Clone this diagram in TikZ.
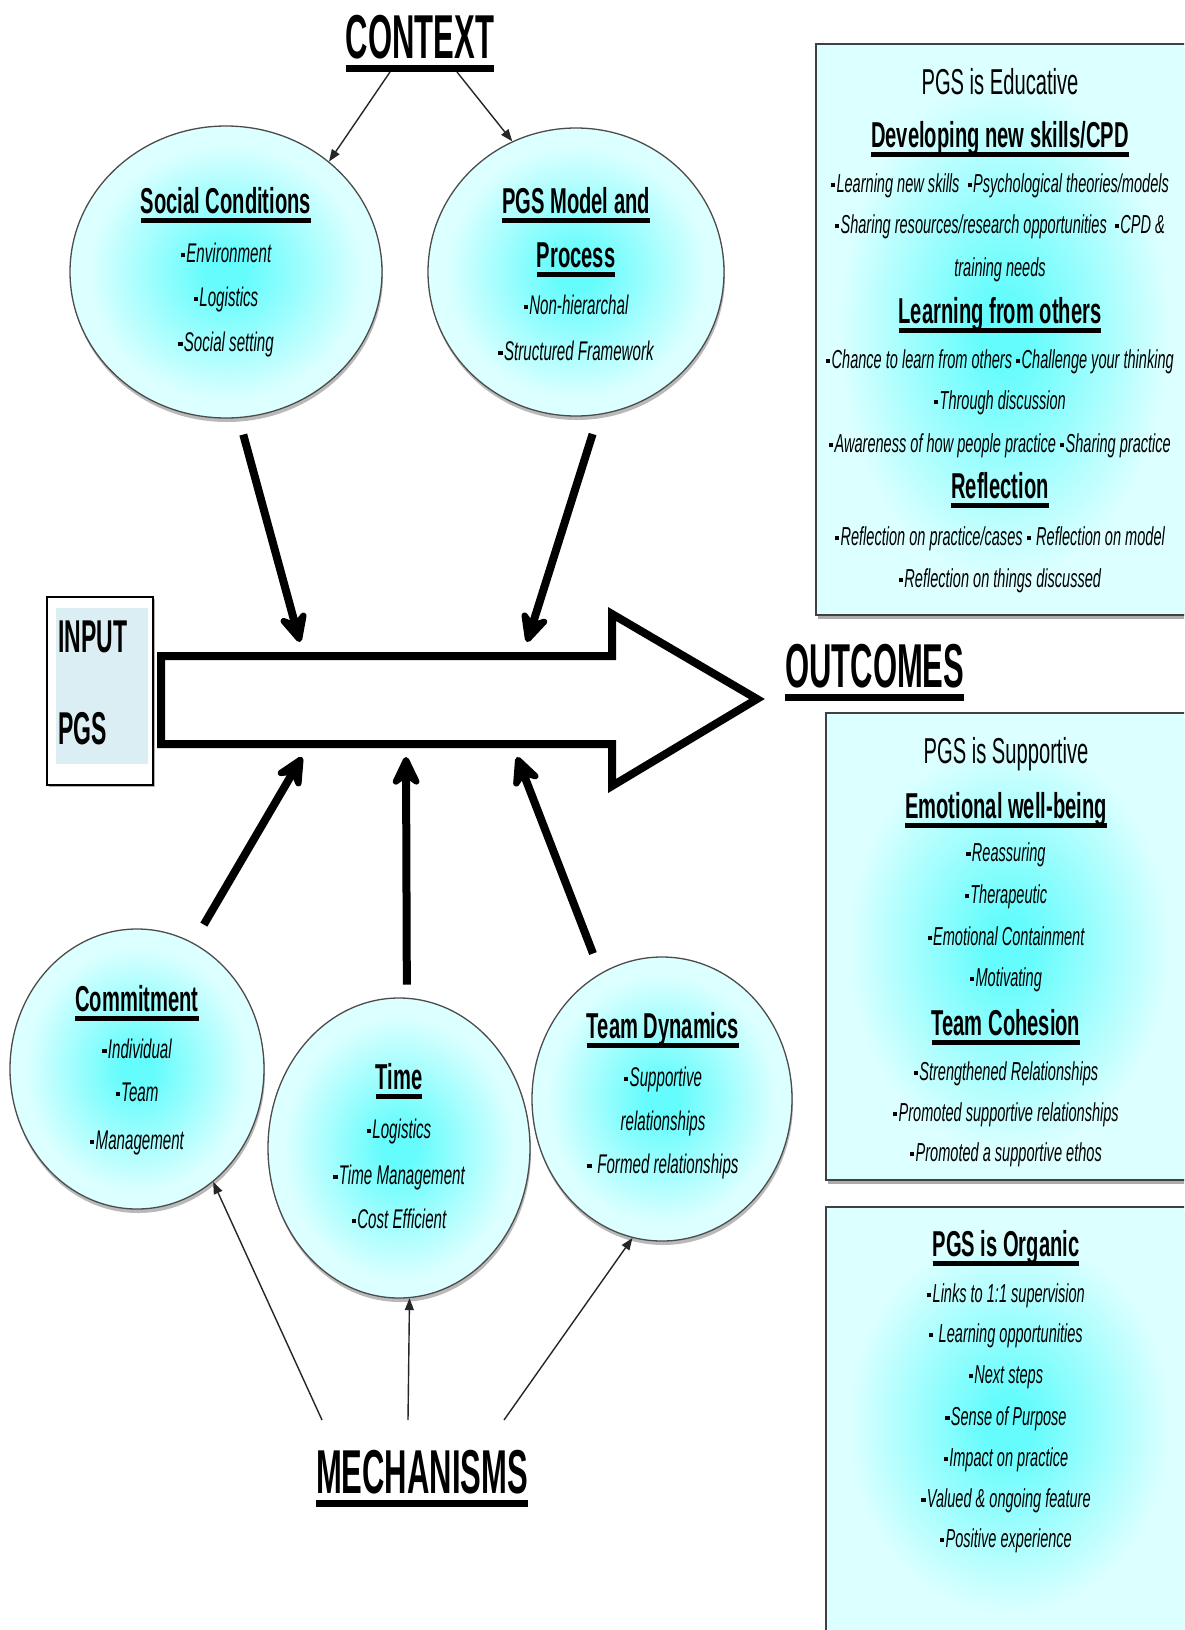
\documentclass[tikz,border=0pt]{standalone}
\usepackage{fontspec}
\setmainfont{Liberation Sans}[FakeStretch=0.56]
\newfontfamily\bigfam{Liberation Sans}[FakeStretch=0.5]
\usetikzlibrary{shapes.geometric,arrows.meta,shadows}

\definecolor{glowin}{RGB}{100,252,252}
\definecolor{glowout}{RGB}{220,255,255}
\definecolor{inputbg}{RGB}{218,238,243}
\pgfdeclareradialshading{glow}{\pgfpoint{0bp}{0bp}}{%
  color(0bp)=(glowin); color(3bp)=(glowin); color(22bp)=(glowout); color(50bp)=(glowout)}

% small square bullet and thick underlines
\newcommand\bu{\rule[.18em]{.16em}{.16em}\hspace{.05em}}
\newcommand\ulbar[1]{\setbox0=\hbox{#1}\rlap{\rule[-.27em]{\wd0}{.12em}}\box0}
\newcommand\bigbar[1]{\setbox0=\hbox{#1}\rlap{\rule[-.22em]{\wd0}{.11em}}\box0}

\tikzset{
  bubble/.style={ellipse, draw=black!70, line width=1.3pt, shade, shading=glow, inner sep=0pt,
    drop shadow={shadow xshift=1pt, shadow yshift=-4pt, fill=black!50, opacity=.55}},
  panel/.style={rectangle, draw=black!75, line width=2pt, shade, shading=glow, inner sep=0pt,
    drop shadow={shadow xshift=2pt, shadow yshift=-4pt, fill=black!55, opacity=.6}},
  big/.style={font=\bigfam\bfseries\fontsize{62}{70}\selectfont, inner sep=0pt, anchor=base},
  lab/.style={font=\bigfam\bfseries\fontsize{46}{50}\selectfont, inner sep=0pt, anchor=base west},
  ttl/.style={font=\bfseries\fontsize{36}{40}\selectfont, inner sep=0pt, anchor=base},
  head/.style={font=\fontsize{36}{40}\selectfont, inner sep=0pt, anchor=base},
  item/.style={font=\itshape\fontsize{27}{30}\selectfont, inner sep=0pt, anchor=base},
  pitem/.style={font=\itshape\fontsize{26}{30}\selectfont, inner sep=0pt, anchor=base},
  fat/.style={line width=8pt, -{Stealth[length=38pt,width=36pt,inset=13pt,round]}},
  thinarr/.style={line width=1.4pt, draw=black!85, -{Triangle[length=12pt,width=9pt]}},
}

\begin{document}
\begin{tikzpicture}[x=1pt, y=-1pt]
\useasboundingbox (0,0) rectangle (1184,1630);
\clip (0,0) rectangle (1184,1630);
\fill[white] (0,0) rectangle (1184,1630);

% outcome panels
\node[panel, minimum width=376pt, minimum height=571pt] (b1) at (1004,329.5) {};
\node[panel, minimum width=366pt, minimum height=467pt] (b2) at (1009,946.5) {};
\node[panel, minimum width=366pt, minimum height=433pt] (b3) at (1009,1423.5) {};

% input box
\node[draw=black, line width=1.5pt, fill=white, minimum width=106pt, minimum height=188pt, inner sep=0pt,
  drop shadow={shadow xshift=2pt, shadow yshift=-2pt, fill=black!50, opacity=.6}] (inbox) at (100,691) {};
\node[fill=inputbg, minimum width=92pt, minimum height=156pt, inner sep=0pt] (inbg) at (102,686) {};
\node[lab] (inp) at (58,652) {INPUT};
\node[lab] (inpgs) at (58,744) {PGS};

% context and mechanism bubbles
\node[bubble, minimum width=312pt, minimum height=292pt] (sc) at (226,272) {};
\node[bubble, minimum width=296pt, minimum height=288pt] (pm) at (576,272) {};
\node[bubble, minimum width=254pt, minimum height=280pt] (com) at (137,1069) {};
\node[bubble, minimum width=262pt, minimum height=300pt] (tm) at (399,1148) {};
\node[bubble, minimum width=260pt, minimum height=284pt] (td) at (662,1099) {};

% main process arrow
\draw[line width=8pt, fill=white, miter limit=10]
  (161,656) -- (612,656) -- (612,614) -- (757,699) -- (612,786) -- (612,744) -- (161,744) -- cycle;

% arrow targets on the process arrow
\coordinate (a1) at (300,642);
\coordinate (a2) at (527,642);
\coordinate (a3) at (302,757);
\coordinate (a4) at (406,757);
\coordinate (a5) at (517,757);

\draw[fat, shorten <=17pt] (sc.-85.7) -- (a1);
\draw[fat, shorten <=20pt] (pm.-81) -- (a2);
\draw[fat, shorten <=21pt] (com.66) -- (a3);
\draw[fat, shorten <=13pt] (tm.87.5) -- (a4);
\draw[fat, shorten <=21pt] (td.116) -- (a5);

% headings
\node[big] (ctx) at (420,58) {\bigbar{CONTEXT}};
\node[big] (mech) at (422,1493) {\bigbar{MECHANISMS}};
\node[big, anchor=base west] (out) at (785,687) {\bigbar{OUTCOMES}};

\coordinate (ctxL) at (390,72);
\coordinate (ctxR) at (457,72);
\coordinate (mL) at (322,1420);
\coordinate (mM) at (408,1420);
\coordinate (mR) at (504,1420);

\draw[thinarr] (ctxL) -- (sc.47);
\draw[thinarr] (ctxR) -- (pm.116);
\draw[thinarr] (mL) -- (com.-56.8);
\draw[thinarr] (mM) -- (tm.-86.6);
\draw[thinarr] (mR) -- (td.-102);

% Social Conditions
\node[ttl] (sct) at (226,213) {\ulbar{Social Conditions}};
\node[item] (sc1) at (226,262) {\bu Environment};
\node[item] (sc2) at (226,306) {\bu Logistics};
\node[item] (sc3) at (226,351) {\bu Social setting};

% PGS Model and Process
\node[ttl] (pmt1) at (576,213) {\ulbar{PGS Model and}};
\node[ttl] (pmt2) at (576,267) {\ulbar{Process}};
\node[item] (pm1) at (576,314) {\bu Non-hierarchal};
\node[item] (pm2) at (576,360) {\bu Structured Framework};

% Commitment
\node[ttl] (comt) at (137,1011) {\ulbar{Commitment}};
\node[item] (com1) at (137,1058) {\bu Individual};
\node[item] (com2) at (137,1101) {\bu Team};
\node[item] (com3) at (137,1149) {\bu Management};

% Time
\node[ttl] (tmt) at (399,1089) {\ulbar{Time}};
\node[item] (tm1) at (399,1138) {\bu Logistics};
\node[item] (tm2) at (399,1184) {\bu Time Management};
\node[item] (tm3) at (399,1228) {\bu Cost Efficient};

% Team Dynamics
\node[ttl] (tdt) at (663,1038) {\ulbar{Team Dynamics}};
\node[item] (td1) at (663,1086) {\bu Supportive};
\node[item] (td2) at (663,1130) {relationships};
\node[item] (td3) at (663,1173) {\bu\ Formed relationships};

% PGS is Educative
\node[head] (e0) at (1000,94) {PGS is Educative};
\node[ttl] (e1) at (1000,147) {\ulbar{Developing new skills/CPD}};
\node[pitem] (e2) at (1000,192) {\bu Learning new skills\ \ \bu Psychological theories/models};
\node[pitem] (e3) at (1000,233) {\bu Sharing resources/research opportunities\ \ \bu CPD \&};
\node[pitem] (e4) at (1000,276) {training needs};
\node[ttl] (e5) at (1000,323) {\ulbar{Learning from others}};
\node[pitem] (e6) at (1000,368) {\bu Chance to learn from others \bu Challenge your thinking};
\node[pitem] (e7) at (1000,409) {\bu Through discussion};
\node[pitem] (e8) at (1000,452) {\bu Awareness of how people practice \bu Sharing practice};
\node[ttl] (e9) at (1000,498) {\ulbar{Reflection}};
\node[pitem] (e10) at (1000,545) {\bu Reflection on practice/cases \bu\ Reflection on model};
\node[pitem] (e11) at (1000,587) {\bu Reflection on things discussed};

% PGS is Supportive
\node[head] (s0) at (1006,763) {PGS is Supportive};
\node[ttl] (s1) at (1006,818) {\ulbar{Emotional well-being}};
\node[pitem] (s2) at (1006,861) {\bu Reassuring};
\node[pitem] (s3) at (1006,903) {\bu Therapeutic};
\node[pitem] (s4) at (1006,945) {\bu Emotional Containment};
\node[pitem] (s5) at (1006,986) {\bu Motivating};
\node[ttl] (s6) at (1006,1035) {\ulbar{Team Cohesion}};
\node[pitem] (s7) at (1006,1080) {\bu Strengthened Relationships};
\node[pitem] (s8) at (1006,1121) {\bu Promoted supportive relationships};
\node[pitem] (s9) at (1006,1161) {\bu Promoted a supportive ethos};

% PGS is Organic
\node[ttl] (o0) at (1006,1256) {\ulbar{PGS is Organic}};
\node[pitem] (o1) at (1006,1302) {\bu Links to 1:1 supervision};
\node[pitem] (o2) at (1006,1342) {\bu\ Learning opportunities};
\node[pitem] (o3) at (1006,1383) {\bu Next steps};
\node[pitem] (o4) at (1006,1425) {\bu Sense of Purpose};
\node[pitem] (o5) at (1006,1466) {\bu Impact on practice};
\node[pitem] (o6) at (1006,1507) {\bu Valued \& ongoing feature};
\node[pitem] (o7) at (1006,1547) {\bu Positive experience};
\end{tikzpicture}
\end{document}
